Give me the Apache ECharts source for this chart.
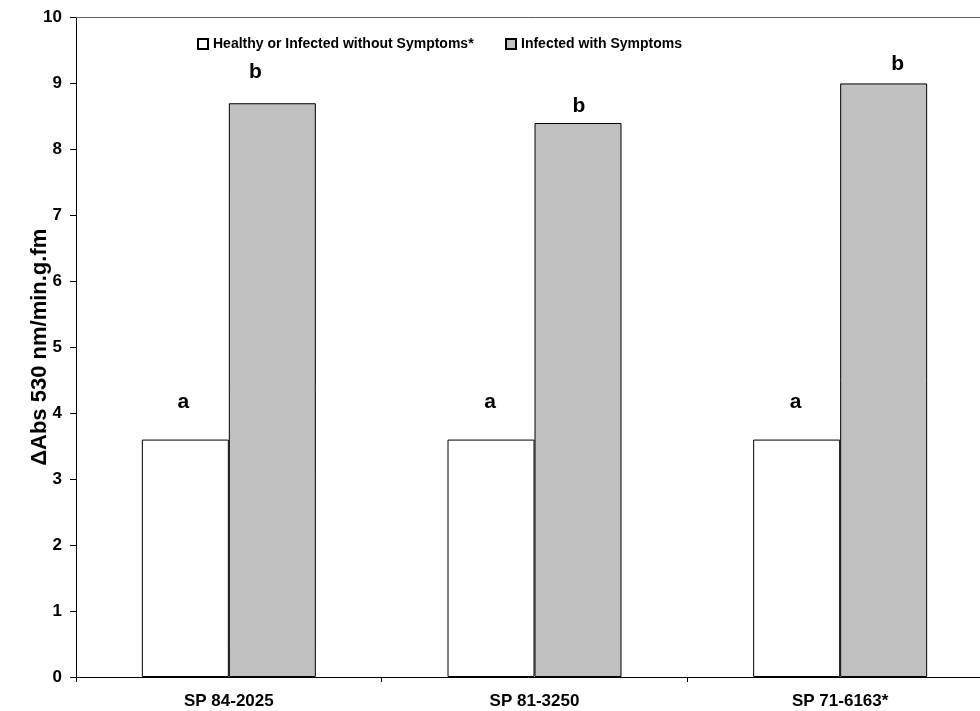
<!DOCTYPE html>
<html>
<head>
<meta charset="utf-8">
<script src="https://cdn.jsdelivr.net/npm/echarts@6/dist/echarts.min.js"></script>
<style>
html,body{margin:0;padding:0;background:#fff;}
#chart{width:980px;height:711px;}
</style>
</head>
<body>
<div id="chart"></div>
<script>
// ---- data ----
var categories = ['SP 84-2025', 'SP 81-3250', 'SP 71-6163*'];
var seriesNames = ['Healthy or Infected without Symptoms*', 'Infected with Symptoms'];
var healthyValues = [3.6, 3.6, 3.6];
var infectedValues = [8.7, 8.4, 9.0];
var healthyLetters = ['a', 'a', 'a'];
var infectedLetters = ['b', 'b', 'b'];
var yTicks = [0, 1, 2, 3, 4, 5, 6, 7, 8, 9, 10];
var yAxisTitle = '\u0394Abs 530 nm/min.g.fm';

// ---- layout / style (not data) ----
var healthyLabelOffsets = [[-2, -27], [-1, -27], [-1, -27]];
var infectedLabelOffsets = [[-17, -21], [1, -6], [14, -9]];
var labelFont = {fontFamily: 'Liberation Sans, Arial, sans-serif', fontWeight: 'bold', fontSize: 21, color: '#000', lineHeight: 21};

function buildData(values, letters, offsets) {
  return values.map(function (v, i) {
    return {
      value: v,
      label: Object.assign({show: true, position: 'top', distance: 0, offset: offsets[i], formatter: letters[i]}, labelFont)
    };
  });
}

var chart = echarts.init(document.getElementById('chart'), null, {renderer: 'canvas'});
var legendText = {fontFamily: 'Liberation Sans Narrow, Arial Narrow, Liberation Sans, sans-serif', fontWeight: 'bold', fontSize: 14, color: '#000', lineHeight: 17};
chart.setOption({
  backgroundColor: '#ffffff',
  animation: false,
  grid: {left: 76, top: 17.5, width: 917, height: 659.5, containLabel: false, outerBoundsMode: 'none'},
  legend: [
    {data: [seriesNames[0]], left: 197, top: 35.5, padding: 0, icon: 'rect', itemWidth: 10, itemHeight: 10, itemGap: 5, textStyle: legendText},
    {data: [seriesNames[1]], left: 505, top: 35.5, padding: 0, icon: 'rect', itemWidth: 10, itemHeight: 10, itemGap: 5, textStyle: legendText}
  ],
  xAxis: [
    {
      type: 'category',
      data: categories,
      position: 'bottom',
      axisLine: {show: true, lineStyle: {color: '#000', width: 1}},
      axisTick: {show: true, length: 5, lineStyle: {color: '#000'}},
      axisLabel: {margin: 16, fontFamily: 'Liberation Sans, Arial, sans-serif', fontWeight: 'bold', fontSize: 17, color: '#000'},
      splitLine: {show: false}
    },
    {
      type: 'category',
      data: categories,
      position: 'top',
      axisLine: {show: true, lineStyle: {color: '#606060', width: 1}},
      axisTick: {show: false},
      axisLabel: {show: false},
      splitLine: {show: false}
    }
  ],
  yAxis: {
    type: 'value',
    min: yTicks[0],
    max: yTicks[yTicks.length - 1],
    interval: 1,
    name: yAxisTitle,
    nameLocation: 'middle',
    nameRotate: 90,
    nameGap: 25,
    nameMoveOverlap: false,
    nameTextStyle: {fontFamily: 'Liberation Sans, Arial, sans-serif', fontWeight: 'bold', fontSize: 22, color: '#000'},
    axisLine: {show: true, lineStyle: {color: '#000', width: 1}},
    axisTick: {show: true, length: 6, lineStyle: {color: '#000'}},
    axisLabel: {margin: 14, fontFamily: 'Liberation Sans, Arial, sans-serif', fontWeight: 'bold', fontSize: 17, color: '#000'},
    splitLine: {show: false}
  },
  series: [
    {
      name: seriesNames[0],
      type: 'bar',
      barWidth: 87,
      barGap: '0%',
      itemStyle: {color: '#ffffff', borderColor: '#000', borderWidth: 1},
      data: buildData(healthyValues, healthyLetters, healthyLabelOffsets)
    },
    {
      name: seriesNames[1],
      type: 'bar',
      barWidth: 87,
      barGap: '0%',
      itemStyle: {color: '#c0c0c0', borderColor: '#000', borderWidth: 1},
      data: buildData(infectedValues, infectedLetters, infectedLabelOffsets)
    }
  ]
});
</script>
</body>
</html>
